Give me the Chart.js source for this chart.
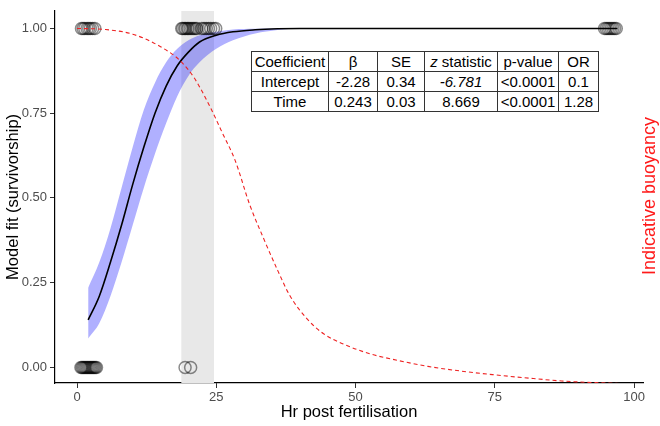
<!DOCTYPE html>
<html>
<head>
<meta charset="utf-8">
<script src="https://cdn.jsdelivr.net/npm/chart.js@4.4.1/dist/chart.umd.min.js"></script>
<style>
    body { margin: 0; background: #fff; }
    #wrap { position: relative; width: 660px; height: 426px; }
    #coefTable {
        position: absolute; left: 251px; top: 51px;
        border-collapse: collapse; background: #fff;
        font-family: "Liberation Sans", Arial, sans-serif; font-size: 15px; color: #000;
    }
    #coefTable td {
        border: 1px solid #333; height: 19px; padding: 0 2px;
        text-align: center; line-height: 19px; white-space: nowrap;
    }
</style>
</head>
<body>
<div id="wrap">
    <canvas id="fitChart" width="660" height="426"></canvas>
    <table id="coefTable"></table>
</div>
<script>
// values
const xTicks = [0, 25, 50, 75, 100];
const yTicks = [0, 0.25, 0.5, 0.75, 1];

const fitHours = [2, 4, 6, 8, 10, 12, 14, 16, 18, 20, 22, 25, 28, 32, 36, 40, 50, 60, 70, 80, 90, 97];
const fitMean  = [0.14, 0.21, 0.31, 0.42, 0.54, 0.65, 0.75, 0.83, 0.89, 0.93, 0.96, 0.98, 0.99, 0.996, 0.999, 1, 1, 1, 1, 1, 1, 1];
const fitUpper = [0.235, 0.31, 0.41, 0.53, 0.65, 0.76, 0.84, 0.90, 0.94, 0.965, 0.98, 0.99, 0.997, 0.999, 1, 1, 1, 1, 1, 1, 1, 1];
const fitLower = [0.085, 0.13, 0.21, 0.31, 0.42, 0.53, 0.63, 0.72, 0.80, 0.86, 0.90, 0.94, 0.965, 0.985, 0.995, 1, 1, 1, 1, 1, 1, 1];

const buoyHours = [0, 5, 10, 15, 18.5, 21, 24, 26, 28.4, 31, 33.4, 36, 38.2, 41.3, 44.2, 47.8, 52.6, 57.5, 63, 70, 75, 80, 87, 93, 100];
const buoyancy  = [1.0, 0.997, 0.983, 0.946, 0.905, 0.855, 0.765, 0.695, 0.61, 0.48, 0.384, 0.287, 0.212, 0.143, 0.100, 0.069, 0.040, 0.021, 0.003, -0.013, -0.022, -0.030, -0.040, -0.045, -0.049];

const greyWindow = [18.7, 24.6];

const aliveHours = [0.8, 1.1, 1.4, 1.8, 2.1, 2.4, 2.8, 3.2,
    18.8, 19.0, 19.3, 19.5, 19.8, 20.0, 20.3, 20.6, 20.9, 21.2, 21.5,
    22.4, 22.8, 23.2, 23.6, 24.0, 24.5, 24.9,
    94.7, 95.0, 95.3, 95.6, 95.9, 96.2, 96.5, 96.8];
const deadHours = [0.7, 0.9, 1.1, 1.3, 1.5, 1.7, 1.9, 2.1, 2.3, 2.5, 2.7, 2.9, 3.1, 3.3, 3.5, 19.4, 20.4];

const tableHeader = ['Coefficient', 'β', 'SE', '<i>z</i> statistic', 'p-value', 'OR'];
const tableRows = [
    ['Intercept', '-2.28', '0.34', '<i>-6.781</i>', '<0.0001', '0.1'],
    ['Time', '0.243', '0.03', '8.669', '<0.0001', '1.28']
];
const colWidths = [77, 49, 47, 73, 61, 40];

const xTitle = 'Hr post fertilisation';
const yTitle = 'Model fit (survivorship)';
const rightTitleText = 'Indicative buoyancy';

const Y_MIN = -0.046, Y_MAX = 1.052;

Chart.defaults.font.family = '"Liberation Sans", Arial, sans-serif';

const pts = (xs, ys) => xs.map((x, i) => ({ x: x, y: Array.isArray(ys) ? ys[i] : ys }));

const rightTitle = {
    id: 'rightTitle',
    afterDraw(chart) {
        const ctx = chart.ctx;
        ctx.save();
        ctx.translate(650, 196);
        ctx.rotate(-Math.PI / 2);
        ctx.fillStyle = '#ff1a1a';
        ctx.font = '18px "Liberation Sans", Arial, sans-serif';
        ctx.textAlign = 'center';
        ctx.textBaseline = 'middle';
        ctx.fillText(rightTitleText, 0, 0);
        ctx.restore();
    }
};

function buildTable() {
    const table = document.getElementById('coefTable');
    const rows = [tableHeader].concat(tableRows);
    table.innerHTML = rows.map(r =>
        '<tr>' + r.map((c, i) => {
            const txt = c.startsWith('<i>') ? c : c.replace('<', '&lt;');
            return '<td style="width:' + (colWidths[i] - 5) + 'px">' + txt + '</td>';
        }).join('') + '</tr>'
    ).join('');
}

function circleSet(xs, y) {
    return {
        data: pts(xs, y),
        showLine: false,
        pointRadius: 6,
        pointBorderWidth: 1.5,
        pointBorderColor: 'rgba(0, 0, 0, 0.45)',
        pointBackgroundColor: 'rgba(0, 0, 0, 0)',
        order: 2
    };
}

function createFitChart() {
    const ctx = document.getElementById('fitChart').getContext('2d');
    return new Chart(ctx, {
        type: 'line',
        data: {
            datasets: [{
                data: pts(greyWindow, Y_MAX),
                backgroundColor: '#e8e8e8',
                borderWidth: 0,
                pointRadius: 0,
                fill: 'start',
                order: 6
            }, {
                data: pts(fitHours, fitUpper),
                backgroundColor: 'rgba(0, 0, 255, 0.31)',
                borderWidth: 0,
                pointRadius: 0,
                cubicInterpolationMode: 'monotone',
                fill: '+1',
                order: 5
            }, {
                data: pts(fitHours, fitLower),
                borderWidth: 0,
                pointRadius: 0,
                cubicInterpolationMode: 'monotone',
                fill: false,
                order: 5
            }, {
                data: pts(fitHours, fitMean),
                borderColor: '#000',
                borderWidth: 1.6,
                pointRadius: 0,
                cubicInterpolationMode: 'monotone',
                fill: false,
                order: 3
            },
            circleSet(aliveHours, 1),
            circleSet(deadHours, 0),
            {
                data: pts(buoyHours, buoyancy),
                borderColor: '#ee2222',
                borderWidth: 1.1,
                borderDash: [4, 3],
                pointRadius: 0,
                cubicInterpolationMode: 'monotone',
                fill: false,
                order: 1
            }]
        },
        options: {
            responsive: false,
            animation: false,
            layout: { padding: { top: 0, right: 17, left: 0, bottom: 0 } },
            plugins: {
                legend: { display: false },
                tooltip: { enabled: false }
            },
            scales: {
                x: {
                    type: 'linear',
                    min: -3.95,
                    max: 101.6,
                    afterBuildTicks: s => { s.ticks = xTicks.map(v => ({ value: v })); },
                    afterFit: s => { s.height = 43; },
                    grid: { drawOnChartArea: false, tickLength: 5, color: '#333' },
                    border: { color: '#000', width: 1.2 },
                    ticks: { color: '#4d4d4d', font: { size: 13 }, padding: 2, maxRotation: 0 },
                    title: { display: true, text: xTitle, color: '#000', font: { size: 16.5 }, padding: { top: 0, bottom: 4 } }
                },
                y: {
                    min: Y_MIN,
                    max: Y_MAX,
                    afterBuildTicks: s => { s.ticks = yTicks.map(v => ({ value: v })); },
                    afterFit: s => { s.width = 55; },
                    grid: { drawOnChartArea: false, tickLength: 5, color: '#333' },
                    border: { color: '#000', width: 1.2 },
                    ticks: { color: '#4d4d4d', font: { size: 13 }, padding: 3, callback: v => v.toFixed(2) },
                    title: { display: true, text: yTitle, color: '#000', font: { size: 16.5 }, padding: { top: 4, bottom: 0 } }
                }
            }
        },
        plugins: [rightTitle]
    });
}

buildTable();
createFitChart();
</script>
</body>
</html>
